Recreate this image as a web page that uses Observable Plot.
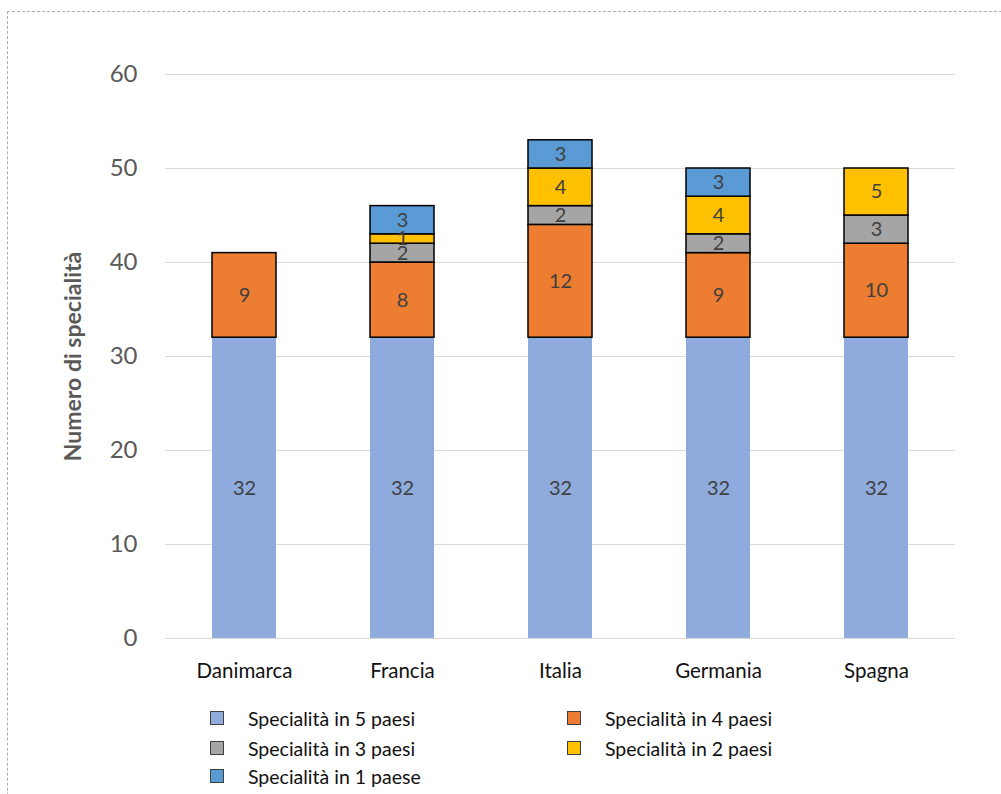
<!DOCTYPE html>
<html>
<head>
<meta charset="utf-8">
<script src="https://cdn.jsdelivr.net/npm/d3@7"></script>
<script src="https://cdn.jsdelivr.net/npm/@observablehq/plot@0.6"></script>
<style>
  html, body { margin: 0; padding: 0; background: #fff; }
  body { width: 1001px; height: 794px; position: relative; overflow: hidden; font-family: Lato, "Open Sans", sans-serif; }
  #frame { position: absolute; left: 7px; top: 11px; width: 1100px; height: 900px; border: 1px dashed #9fb0c8; box-sizing: border-box; }
  #chart { position: absolute; left: 0; top: 0; }
  #legend { position: absolute; left: 0; top: 0; width: 1001px; height: 794px; pointer-events: none; }
  .item { position: absolute; display: flex; align-items: center; font-size: 19.5px; color: #111; white-space: nowrap; height: 14px; }
  .sw { width: 12px; height: 12px; border: 1px solid #404040; margin-right: 24px; flex: none; }
</style>
</head>
<body>
<div id="frame"></div>
<div id="chart"></div>
<div id="legend"></div>
<script>
const countries = ["Danimarca", "Francia", "Italia", "Germania", "Spagna"];
const seriesNames = ["Specialità in 5 paesi", "Specialità in 4 paesi", "Specialità in 3 paesi", "Specialità in 2 paesi", "Specialità in 1 paese"];
const in5 = [32, 32, 32, 32, 32];
const in4 = [9, 8, 12, 9, 10];
const in3 = [0, 2, 2, 2, 3];
const in2 = [0, 1, 4, 4, 5];
const in1 = [0, 3, 3, 3, 0];
const seriesColors = ["#8FAADC", "#ED7D31", "#A5A5A5", "#FFC000", "#5B9BD5"];
const yTicks = [0, 10, 20, 30, 40, 50, 60];
const yLabel = "Numero di specialità";

const seriesValues = [in5, in4, in3, in2, in1];
const data = [];
seriesNames.forEach((s, si) => {
  countries.forEach((c, ci) => {
    const v = seriesValues[si][ci];
    if (v > 0) data.push({country: c, series: s, value: v, outlined: si === 0 ? 0 : 1});
  });
});

const chart = Plot.plot({
  width: 1001,
  height: 700,
  marginTop: 74,
  marginBottom: 62,
  marginLeft: 165,
  marginRight: 46,
  style: {fontFamily: "Lato, 'Open Sans', sans-serif", background: "transparent"},
  x: {domain: countries, paddingInner: 0.595, paddingOuter: 0.2975, label: null},
  y: {domain: [0, 60], label: null},
  color: {domain: seriesNames, range: seriesColors},
  opacity: {domain: [0, 1], range: [0, 1]},
  marks: [
    Plot.gridY(yTicks, {stroke: "#d9d9d9", strokeOpacity: 1, strokeWidth: 1}),
    Plot.barY(data, {
      x: "country", y: "value", fill: "series", z: "series", order: seriesNames,
      stroke: "#000", strokeWidth: 1.5, strokeOpacity: "outlined"
    }),
    Plot.text(data, Plot.stackY({
      x: "country", y: "value", z: "series", order: seriesNames,
      text: d => String(d.value), fill: "#404040", fontSize: 20
    })),
    Plot.axisY(yTicks, {tickSize: 0, tickPadding: 28, fontSize: 24, fill: "#595959", label: null}),
    Plot.axisX({tickSize: 0, tickPadding: 25, fontSize: 20.5, fill: "#111", fontWeight: 400, label: null}),
    Plot.text([yLabel], {frameAnchor: "left", textAnchor: "middle", rotate: -90, dx: -92, fontWeight: "bold", fontSize: 23, fill: "#595959"})
  ]
});
document.getElementById("chart").appendChild(chart);

// legend: two columns, filled column by column like the reference
const legend = document.getElementById("legend");
const legendCols = [[0, 2, 4], [1, 3]];
const colLeft = [210, 567];
const rowTop = [711, 741, 769];
legendCols.forEach((col, c) => {
  col.forEach((si, r) => {
    const item = document.createElement("div");
    item.className = "item";
    item.style.left = colLeft[c] + "px";
    item.style.top = rowTop[r] + "px";
    const sw = document.createElement("span");
    sw.className = "sw";
    sw.style.background = seriesColors[si];
    const t = document.createElement("span");
    t.textContent = seriesNames[si];
    item.appendChild(sw);
    item.appendChild(t);
    legend.appendChild(item);
  });
});
</script>
</body>
</html>
